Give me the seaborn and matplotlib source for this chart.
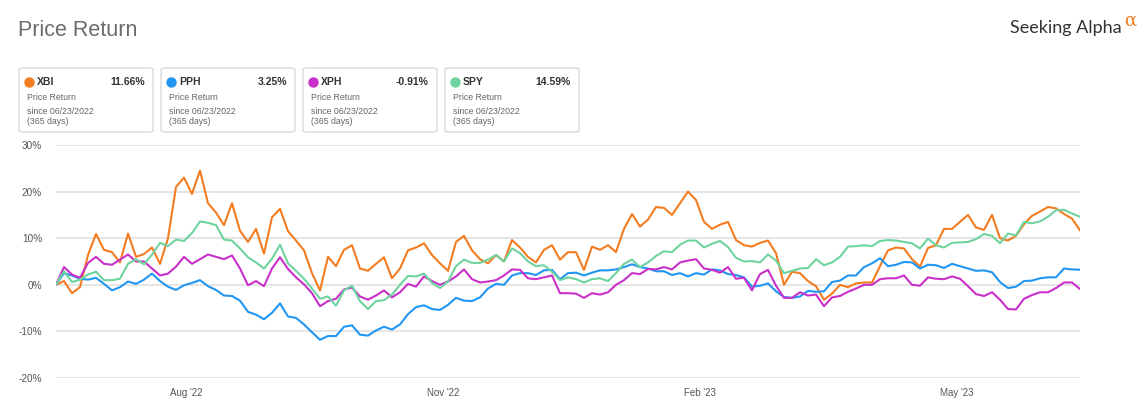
import matplotlib.pyplot as plt
import numpy as np
import pandas as pd
import seaborn as sns
from matplotlib.patches import FancyBboxPatch
from matplotlib.lines import Line2D


tickers = ['XBI', 'PPH', 'XPH', 'SPY']
colors = ['#f47c20', '#2196f3', '#c930c9', '#6fd39e']
final_returns = ['11.66%', '3.25%', '-0.91%', '14.59%']
since_text = 'since 06/23/2022'
days_text = '(365 days)'

# price return in %, one value every ~2 trading days from 06/23/2022
xbi = [0, 0.8, -1.8, -0.5, 6.4, 10.9, 7.5, 7, 4.8, 11, 6, 6.6, 8, 4.5, 10, 21, 23, 19.5, 24.5, 17.5, 15.5, 12.8,
       17.5, 11.6, 9.2, 12, 6.7, 14.5, 16.3, 11.5, 9.5, 7.4, 2.5, -1.2, 6, 4, 7.5, 8.5, 3.5, 3, 4.5, 5.9, 1.4, 3.5,
       7.4, 8, 8.9, 6.4, 4.6, 3, 9.2, 10.5, 7.4, 5.5, 4.6, 6.4, 5, 9.6, 8, 6, 4.8, 7.5, 8.5, 5.4, 7,
       7, 3.2, 8.2, 7.5, 8.5, 7, 12, 15.2, 12.5, 14, 16.7, 16.5, 15, 17.5, 20, 18.2, 13.5, 12, 12.9, 13.5, 9.6,
       8.5, 8.2, 9, 9.5, 6.8, 0, 2.8, 2.5, 0.8, -0.3, -3.2, -1.9, 0, -0.5, 0.3, 0.5, 0.5, 4, 7.4, 8, 7.8, 5.5,
       3.9, 7.9, 8.5, 12, 12, 13.5, 15, 12.3, 11.8, 15, 10, 9.5, 10.5, 13, 14.8, 15.7, 16.7, 16.4, 15.2, 14.2, 11.66]
pph = [0, 2.5, 2, 1.3, 1.1, 1.5, 0.2, -1.2, -0.5, 0.7, 0.2, 1.1, 2.4, 0.8, -0.4, -1.1, -0.1, 0.4, 1, -0.3,
       -1.1, -2.3, -2.4, -3.4, -5.8, -6.4, -7.4, -6, -4, -6.8, -7.1, -8.5, -10.2, -11.8, -11, -11, -9, -8.7, -10.7,
       -10.9, -9.8, -9, -9.6, -8.5,
       -6.3, -4.8, -4.4, -5.2, -5.4, -4.3, -2.8, -3.4, -3.5, -2.7, -0.8, 0.2, 0, 2, 2.5, 2.5, 2.1, 3.1, 3.2, 1.2,
       2.5, 2.6, 2, 2.6, 3.1, 3.1, 3.3, 3.8, 4.4, 3.8, 3.5, 2.9, 2.9, 2.1, 2.5, 1.8, 2.5, 2.2, 3.3, 3.1, 2.3, 2.1,
       1.6, -0.4, -0.2, 0.3, -1.4, -2.6, -2.8, -2.5, -1.3, -1.5, -1.4, 0.6, 0.9, 2, 2, 3.8, 4.6, 5.7, 4, 4.3,
       4.9, 4.8, 3.5, 4.3, 4.2, 3.6, 4.5, 4, 3.5, 3, 3.1, 2.7, 0.6, -0.7, -0.4, 0.8, 0.9, 1.4, 1.6, 1.6,
       3.5, 3.3, 3.25]
xph = [0, 3.8, 2.2, 1.5, 4.7, 6, 4.5, 4.3, 5.4, 6.5, 5, 5, 3.5, 2, 2.4, 3.9, 6, 4.5, 5.5, 6.5,
       6, 5.5, 6.3, 3.5, -0.1, 0.8, -0.3, 3.5, 5.9, 3.4, 1.6, 0.1, -1.8, -4.6, -3.5, -3, -1, -0.6, -2.5, -3.2,
       -2.3, -1.2, -2.7, -1.6,
       0.2, -0.4, 1.8, 0.8, 0, 0.7, 1.8, 3.3, 1.2, 0.5, 0.7, 1, 2, 3.3, 3.2, 1.4, 1.2, 1.6, 2, -1.8,
       -1.8, -1.9, -2.8, -1.8, -2.1, -1.6, 0, 1, 2.5, 2.3, 3.4, 3.3, 3.8, 3.3, 4.8, 5.2, 5.5, 3.5, 3.2, 2.6, 3.8, 1.3,
       1.5, -1.2, 2.3, 3.2, -0.2, -2.8, -2.8, -1.6, -2.3, -2.1, -4.6, -2.7, -2.4, -1.5, -0.8, 0, 0, 1.2, 1.4, 1.4,
       2, 0, -0.2, 1.6, 1.3, 1.2, 1.8, 1.3, -0.3, -2, -2.4, -1.6, -3.2, -5.2, -5.3, -3, -2.2, -1.6, -1.6, -0.7,
       0.5, 0.5, -0.91]
spy = [0, 2.9, 0.6, 1.1, 2.2, 2.8, 1, 1, 1.3, 4.5, 5.5, 4.4, 6.5, 9, 8.3, 9.7, 9.4, 11.1, 13.6, 13.3,
       12.8, 9.7, 9.5, 7.8, 5.9, 4.8, 3.5, 5.6, 8.6, 4.6, 3, 1.3, -0.8, -3, -2.5, -4.5, -1.2, -0.2, -3.5, -5.2,
       -3.5, -3.3, -2.1, 0,
       1.9, 1.8, 2.4, 0.4, -0.7, 0.7, 4, 5.4, 4.7, 4.7, 5.4, 6.4, 5, 7.8, 6.8, 5, 4, 4.2, 2.8, 1,
       1.6, 1.2, 0.5, 1.2, 1.4, 0.8, 2.5, 4.5, 5.4, 3.8, 4.8, 6.2, 7.2, 7, 8.6, 9.5, 9.5, 8, 8.8, 9.4, 8.1, 5.8,
       5, 5.1, 4.8, 6.5, 5.2, 2.5, 3, 3.5, 3.6, 5.5, 4.2, 4.8, 6, 8.2, 8.3, 8.5, 8.3, 9.4, 9.6, 9.5,
       9.2, 8.9, 7.8, 9.9, 8.5, 8, 9, 9.1, 9.2, 9.8, 10.9, 10.5, 8.9, 11, 10.6, 13.5, 13.2, 13.6, 14.6, 16,
       16.1, 15.3, 14.59]

month_labels = ["Aug '22", "Nov '22", "Feb '23", "May '23"]
month_pos = [16.25, 48.4, 80.5, 112.6]
y_ticks = [-20, -10, 0, 10, 20, 30]

W, H = 1140, 398


def fx(px):
    return px / W


def fy(py):
    return 1 - py / H


series = {'XBI': xbi, 'PPH': pph, 'XPH': xph, 'SPY': spy}
df = pd.concat([pd.DataFrame({'step': np.arange(len(v)), 'ret': v, 'ticker': k}) for k, v in series.items()])

sns.set_style('white')
plt.rcParams['font.family'] = ['Liberation Sans', 'DejaVu Sans']

fig = plt.figure(figsize=(W / 100, H / 100), dpi=100)
ax = fig.add_axes([fx(56), fy(378), (1080 - 56) / W, (378 - 145) / H])

sns.lineplot(data=df, x='step', y='ret', hue='ticker', hue_order=tickers,
             palette=dict(zip(tickers, colors)), linewidth=1.5, legend=False, ax=ax)
ax.set_xlim(0, len(xbi) - 1)
ax.set_ylim(-20, 30)
ax.set_yticks(y_ticks)
ax.set_yticklabels([f'{v}%' for v in y_ticks])
ax.set_xticks(month_pos)
ax.set_xticklabels(month_labels)
ax.set_xlabel('')
ax.set_ylabel('')
ax.yaxis.grid(True, color='#e3e3e3', lw=1.3)
ax.set_axisbelow(True)
for s in ax.spines.values():
    s.set_visible(False)
ax.tick_params(axis='x', length=5, width=1, color='#d6d6d6', labelsize=7, labelcolor='#555555', pad=2)
ax.tick_params(axis='y', length=0, labelsize=7.2, labelcolor='#555555', pad=10)

# header
fig.text(fx(18), fy(30), 'Price Return', fontsize=15.5, color='#6b6b6b', va='center')
fig.text(fx(1010), fy(28), 'Seeking Alpha', fontsize=13, color='#333333', va='center', family=['Lato', 'DejaVu Sans'])
fig.text(fx(1124), fy(21), '\u03b1', fontsize=13, color='#f47c20', va='center', family=['DejaVu Serif'])

# summary cards
for i, (t, c, r) in enumerate(zip(tickers, colors, final_returns)):
    x0 = 19 + 142 * i
    card = FancyBboxPatch((fx(x0), fy(132)), 134 / W, 64 / H, boxstyle='round,pad=0,rounding_size=0.004',
                          transform=fig.transFigure, fc='white', ec='#d9d9d9', lw=1)
    fig.add_artist(card)
    fig.add_artist(Line2D([fx(x0 + 10)], [fy(81.5)], marker='o', ms=6.5, color=c, transform=fig.transFigure))
    fig.text(fx(x0 + 18), fy(82), t, fontsize=7.5, weight='bold', color='#333333', va='center')
    fig.text(fx(x0 + 126), fy(82), r, fontsize=7.5, weight='bold', color='#333333', va='center', ha='right')
    fig.text(fx(x0 + 8), fy(97), 'Price Return', fontsize=6.3, color='#666666', va='center')
    fig.text(fx(x0 + 8), fy(111), since_text, fontsize=6.3, color='#666666', va='center')
    fig.text(fx(x0 + 8), fy(122), days_text, fontsize=6.3, color='#666666', va='center')

fig.savefig('out.png', dpi=100, facecolor='white')
